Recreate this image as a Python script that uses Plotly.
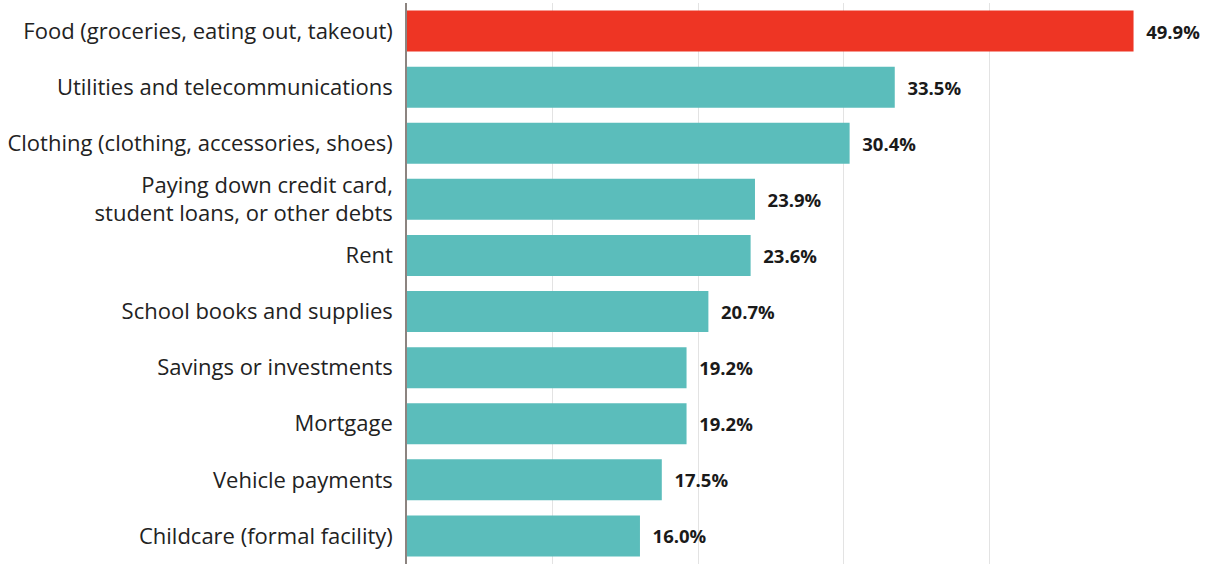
import plotly.graph_objects as go

categories = [
    "Food (groceries, eating out, takeout)",
    "Utilities and telecommunications",
    "Clothing (clothing, accessories, shoes)",
    "Paying down credit card,<br>student loans, or other debts",
    "Rent",
    "School books and supplies",
    "Savings or investments",
    "Mortgage",
    "Vehicle payments",
    "Childcare (formal facility)",
]
values = [49.9, 33.5, 30.4, 23.9, 23.6, 20.7, 19.2, 19.2, 17.5, 16.0]
colors = ["#EE3524"] + ["#5BBDBB"] * 9

fig = go.Figure(go.Bar(
    x=values,
    y=categories,
    orientation="h",
    marker=dict(color=colors, line=dict(width=0)),
    texttemplate="\u00a0\u00a0<b>%{x:.1f}%</b>",
    textposition="outside",
    textfont=dict(family="Open Sans", size=18.5, color="#1a1a1a"),
    cliponaxis=False,
))

fig.update_layout(
    width=1209, height=564,
    margin=dict(l=407, r=74, t=3, b=0, autoexpand=False),
    paper_bgcolor="white", plot_bgcolor="white",
    bargap=0.27,
    showlegend=False,
    font=dict(family="Open Sans", color="#222222"),
    xaxis=dict(
        range=[0, 50], dtick=10, showticklabels=False,
        showgrid=True, gridcolor="#e3e3e3", gridwidth=1,
        zeroline=False, fixedrange=True, automargin=False,
    ),
    yaxis=dict(
        autorange="reversed", automargin=False,
        showline=True, linecolor="#8c8480", linewidth=1.5,
        ticks="", ticklabelstandoff=8,
        tickfont=dict(family="Open Sans", size=22, color="#222222"),
    ),
)

fig.write_html(
    "out.html",
    config={"displayModeBar": False},
    post_script="document.body.style.margin='0';document.body.style.overflow='hidden';",
)
